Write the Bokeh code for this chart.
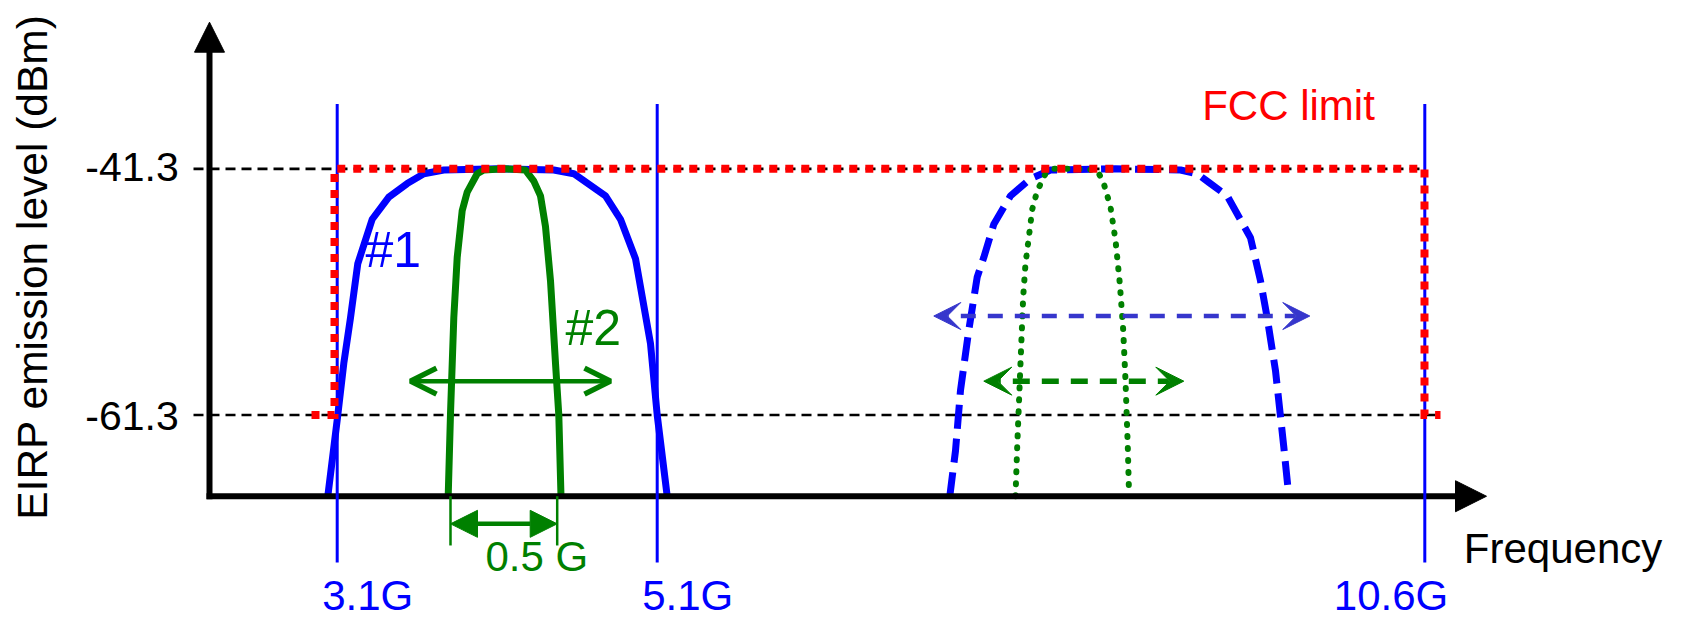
import numpy as np
from bokeh.plotting import figure
from bokeh.models import Range1d, Arrow, NormalHead, VeeHead, OpenHead
from bokeh.core.properties import value
from bokeh.embed import file_html
from bokeh.resources import INLINE

# ---------------- data (x: schematic frequency position, y: EIRP in dBm) ----------------
level_values = [-41.3, -61.3]
level_labels = ["-41.3", "-61.3"]
axis_floor = -67.9

freq_pos = [336.7, 656.7, 1424.3]
freq_labels = ["3.1G", "5.1G", "10.6G"]

# FCC limit mask
fcc_x = [311.0, 334.0, 334.0, 1424.0, 1424.0, 1440.0]
fcc_y = [-61.3, -61.3, -41.3, -41.3, -61.3, -61.3]

# band #1 (solid blue)
band1_x = [327.3, 337.0, 343.3, 350.0, 357.3, 371.7, 388.3, 406.7, 423.3, 443.3, 498.0,
           553.3, 573.3, 605.0, 620.0, 635.0, 650.0, 656.7, 666.7]
band1_y = [-67.9, -61.5, -57.1, -53.4, -49.0, -45.4, -43.6, -42.5, -41.7, -41.4, -41.3,
           -41.4, -41.7, -43.5, -45.4, -48.6, -55.5, -61.3, -67.9]

# band #2 (solid green)
band2_x = [447.7, 450.0, 453.3, 456.7, 461.7, 466.7, 476.7, 483.3, 504.0, 525.0, 533.3,
           540.0, 545.0, 550.0, 555.0, 558.3, 560.5]
band2_y = [-67.9, -61.2, -53.4, -48.5, -44.7, -43.2, -41.7, -41.4, -41.3, -41.4, -42.3,
           -43.5, -46.0, -50.4, -57.1, -61.3, -67.9]

# tuned wide band (dashed blue)
band3_x = [949.3, 955.0, 960.0, 968.3, 976.7, 983.3, 993.3, 1010.0, 1030.0, 1050.0, 1115.0,
           1180.0, 1196.7, 1208.3, 1226.7, 1250.0, 1260.0, 1266.7, 1275.0, 1283.3, 1288.3]
band3_y = [-67.9, -64.2, -59.3, -54.4, -50.1, -48.5, -45.8, -43.5, -42.1, -41.4, -41.3,
           -41.4, -41.7, -42.4, -43.5, -46.9, -50.4, -53.4, -57.7, -63.9, -67.9]

# tuned narrow band (dotted green)
band4_x = [1015.0, 1016.7, 1020.0, 1022.7, 1025.0, 1028.3, 1031.7, 1036.7, 1045.0, 1053.3,
           1075.0, 1096.7, 1103.3, 1110.0, 1115.0, 1119.3, 1122.7, 1125.0, 1127.3, 1128.3]
band4_y = [-67.9, -63.9, -57.1, -51.7, -49.0, -46.9, -44.6, -43.1, -41.7, -41.3,
           -41.3, -41.4, -42.5, -44.4, -47.1, -50.6, -54.4, -58.5, -63.9, -67.0]

# tuning-range arrows: (x_start, x_end, y)
tune2_arrow = [410.0, 610.0, -58.55]
tune3_arrow = [933.3, 1309.3, -53.26]
tune4_arrow = [983.3, 1183.3, -58.55]
bw_arrow = [450.0, 556.7, -70.14]

BLUE = "#0000ff"
GREEN = "#008000"
RED = "#ff0000"
ARROW_BLUE = "#3636cc"
FONT = value("Liberation Sans")
PX_PER_DB = 12.31
TXT_DY = 17 / PX_PER_DB   # compensation of the text baseline placement (in dB)
TXT_DX = -17              # same for the rotated label (in x units)

p = figure(width=1682, height=618, x_range=Range1d(0, 1682), y_range=Range1d(-77.832, -27.628),
           output_backend="svg", toolbar_location=None, x_axis_type=None, y_axis_type=None,
           min_border=0, title=None)
p.outline_line_color = None
p.background_fill_color = "white"
p.border_fill_color = "white"

# reference dashed levels
p.segment(x0=[193, 193], y0=level_values, x1=[1424, 1438], y1=level_values,
          line_color="black", line_width=2.7, line_dash="10 6")

# band curves
p.line(band1_x, band1_y, line_color=BLUE, line_width=7, line_join="round")
p.line(band2_x, band2_y, line_color=GREEN, line_width=7, line_join="round")
p.line(band3_x, band3_y, line_color=BLUE, line_width=7, line_dash="24 10", line_join="round")
p.line(band4_x, band4_y, line_color=GREEN, line_width=6, line_dash="1 11",
       line_cap="round", line_join="round")

# arrows
def double_arrow(spec, color, width, dash, head_fn):
    x0, x1, y = spec
    kw = dict(line_color=color, line_width=width)
    if dash:
        kw["line_dash"] = dash
    p.add_layout(Arrow(x_start=x0, y_start=y, x_end=x1, y_end=y,
                       start=head_fn(), end=head_fn(), **kw))

double_arrow(tune2_arrow, GREEN, 4.5, None,
             lambda: OpenHead(size=26, line_color=GREEN, line_width=5.5))
double_arrow(tune3_arrow, ARROW_BLUE, 4.5, "15 12",
             lambda: VeeHead(size=27, fill_color=ARROW_BLUE, line_color=ARROW_BLUE, line_width=1))
double_arrow(tune4_arrow, GREEN, 5.5, "17 12",
             lambda: VeeHead(size=28, fill_color=GREEN, line_color=GREEN, line_width=1))
double_arrow(bw_arrow, GREEN, 4.5, None,
             lambda: NormalHead(size=27, fill_color=GREEN, line_color=GREEN, line_width=1))

# axes with arrow heads
p.segment(x0=[209, 206], y0=[axis_floor - 0.25, axis_floor], x1=[209, 1457], y1=[-31.6, axis_floor],
          line_color="black", line_width=6)
p.add_layout(Arrow(x_start=209, y_start=-35.0, x_end=209, y_end=-29.39, line_alpha=0,
                   end=NormalHead(size=30, fill_color="black", line_color="black", line_width=1)))
p.add_layout(Arrow(x_start=1400, y_start=axis_floor, x_end=1486, y_end=axis_floor, line_alpha=0,
                   end=NormalHead(size=31, fill_color="black", line_color="black", line_width=1)))

# frequency markers
p.segment(x0=freq_pos, y0=[-73.28] * 3, x1=freq_pos, y1=[-36.04] * 3,
          line_color=BLUE, line_width=3)
# bandwidth ticks
p.segment(x0=bw_arrow[:2], y0=[axis_floor] * 2, x1=bw_arrow[:2], y1=[-71.9] * 2,
          line_color=GREEN, line_width=2.5)

# FCC limit (on top)
p.line(fcc_x, fcc_y, line_color=RED, line_width=8, line_dash="8 8", line_join="miter")

# texts (baselines in dB, compensated)
def txt(xs, ys, texts, color, size, align="left", **kw):
    p.text(x=xs, y=[v + TXT_DY for v in ys], text=texts, text_font=FONT, text_font_size=size,
           text_color=color, text_align=align, text_baseline="alphabetic", **kw)

txt([178.3, 178.3], [-42.53, -62.76], level_labels, "black", "41px", align="right")
p.text(x=[49.3 + TXT_DX], y=[-49.28], text=["EIRP emission level (dBm)"], angle=np.pi / 2,
       text_font=FONT, text_font_size="42.5px", text_color="black", text_align="center",
       text_baseline="alphabetic")
txt([321.7, 641.7, 1333.3], [-77.34] * 3, freq_labels, BLUE, "42px")
txt([1463.3], [-73.53], ["Frequency"], "black", "42px")
txt([1201.7], [-37.56], ["FCC limit"], RED, "42px")
txt([485.0], [-74.2], ["0.5 G"], GREEN, "42px")
txt([365.0], [-49.29], ["#1"], BLUE, "50px")
txt([565.0], [-55.65], ["#2"], GREEN, "50px")

open("out.html", "w").write(file_html(p, INLINE))
